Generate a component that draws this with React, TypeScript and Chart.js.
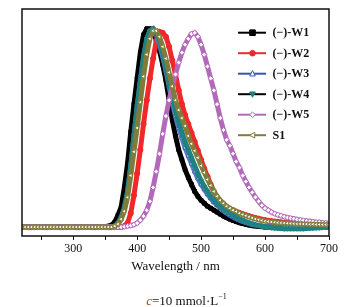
import React, { useEffect, useRef } from "react";
import { Chart, registerables } from "chart.js";

Chart.register(...registerables);

const wavelengths = [
  220, 225, 230, 235, 240, 245, 250, 255, 260, 265, 270, 275, 280, 285, 290, 295, 300, 305, 310, 315,
  320, 325, 330, 335, 340, 345, 350, 355, 360, 365, 370, 375, 380, 385, 390, 395, 400, 405, 410, 415,
  420, 425, 430, 435, 440, 445, 450, 455, 460, 465, 470, 475, 480, 485, 490, 495, 500, 505, 510, 515,
  520, 525, 530, 535, 540, 545, 550, 555, 560, 565, 570, 575, 580, 585, 590, 595, 600, 605, 610, 615,
  620, 625, 630, 635, 640, 645, 650, 655, 660, 665, 670, 675, 680, 685, 690, 695, 700,
];

const w1 = [
  0, 0, 0, 0, 0, 0, 0, 0, 0, 0, 0, 0, 0, 0, 0, 0, 0, 0, 0, 0, 0, 0, 0, 0, 0, 0, 0,
  0.005, 0.01, 0.025, 0.06, 0.1, 0.2, 0.32, 0.48, 0.62, 0.75, 0.88, 0.97, 1.0, 1.0, 0.98, 0.945,
  0.89, 0.82, 0.74, 0.64, 0.54, 0.46, 0.39, 0.34, 0.29, 0.25, 0.215, 0.18, 0.155, 0.135, 0.12,
  0.105, 0.095, 0.085, 0.075, 0.065, 0.055, 0.047, 0.04, 0.033, 0.027, 0.022, 0.018, 0.014, 0.01,
  0.007, 0.005, 0.003, 0.002,
  0, 0, 0, 0, 0, 0, 0, 0, 0, 0, 0, 0, 0, 0, 0, 0, 0, 0, 0, 0, 0,
];

const w2 = [
  0, 0, 0, 0, 0, 0, 0, 0, 0, 0, 0, 0, 0, 0, 0, 0, 0, 0, 0, 0, 0, 0, 0, 0, 0, 0, 0, 0, 0, 0, 0, 0,
  0.005, 0.02, 0.07, 0.16, 0.27, 0.39, 0.52, 0.64, 0.75, 0.85, 0.94, 0.985, 0.98, 0.96, 0.91, 0.84,
  0.77, 0.69, 0.62, 0.565, 0.52, 0.475, 0.43, 0.385, 0.34, 0.295, 0.255, 0.215, 0.18, 0.15, 0.13,
  0.115, 0.102, 0.092, 0.085, 0.078, 0.072, 0.066, 0.06, 0.055, 0.05, 0.046, 0.042, 0.038, 0.035,
  0.032, 0.03, 0.028, 0.026, 0.024, 0.022, 0.021, 0.02, 0.019, 0.018, 0.017, 0.016, 0.015, 0.015,
  0.014, 0.014, 0.013, 0.013, 0.012, 0.012,
];

const w3 = [
  0, 0, 0, 0, 0, 0, 0, 0, 0, 0, 0, 0, 0, 0, 0, 0, 0, 0, 0, 0, 0, 0, 0, 0, 0, 0, 0, 0, 0,
  0.005, 0.015, 0.04, 0.09, 0.17, 0.3, 0.45, 0.6, 0.73, 0.85, 0.94, 0.99, 1.0, 0.97, 0.92, 0.86,
  0.79, 0.71, 0.63, 0.56, 0.5, 0.45, 0.4, 0.36, 0.32, 0.28, 0.245, 0.215, 0.19, 0.165, 0.145, 0.125,
  0.11, 0.095, 0.082, 0.07, 0.06, 0.05, 0.042, 0.035, 0.028, 0.022, 0.017, 0.013, 0.01, 0.007,
  0.005, 0.003,
  0, 0, 0, 0, 0, 0, 0, 0, 0, 0, 0, 0, 0, 0, 0, 0, 0, 0, 0, 0,
];

const w4 = [
  0, 0, 0, 0, 0, 0, 0, 0, 0, 0, 0, 0, 0, 0, 0, 0, 0, 0, 0, 0, 0, 0, 0, 0, 0, 0, 0, 0, 0,
  0.005, 0.02, 0.05, 0.1, 0.18, 0.31, 0.46, 0.61, 0.74, 0.86, 0.95, 0.99, 1.0, 0.98, 0.94, 0.88,
  0.81, 0.73, 0.66, 0.59, 0.53, 0.48, 0.43, 0.39, 0.35, 0.31, 0.27, 0.235, 0.205, 0.18, 0.155, 0.135,
  0.12, 0.105, 0.09, 0.08, 0.07, 0.06, 0.05, 0.042, 0.035, 0.028, 0.022, 0.017, 0.012, 0.008, 0.005,
  0.002, 0, -0.003, -0.005, -0.006, -0.007, -0.008, -0.008, -0.008, -0.008, -0.008, -0.008, -0.008,
  -0.007, -0.006, -0.005, -0.004, -0.003, -0.002, -0.001, 0,
];

const w5 = [
  0, 0, 0, 0, 0, 0, 0, 0, 0, 0, 0, 0, 0, 0, 0, 0, 0, 0, 0, 0, 0, 0, 0, 0, 0, 0, 0, 0, 0, 0, 0, 0,
  0.002, 0.005, 0.008, 0.012, 0.02, 0.035, 0.055, 0.085, 0.13, 0.2, 0.28, 0.37, 0.47, 0.56, 0.64,
  0.71, 0.77, 0.83, 0.88, 0.92, 0.95, 0.975, 0.98, 0.96, 0.92, 0.87, 0.81, 0.75, 0.69, 0.62, 0.55,
  0.49, 0.44, 0.41, 0.37, 0.33, 0.3, 0.26, 0.23, 0.2, 0.175, 0.15, 0.13, 0.11, 0.095, 0.085, 0.075,
  0.068, 0.062, 0.057, 0.052, 0.048, 0.045, 0.042, 0.039, 0.036, 0.033, 0.031, 0.029, 0.027, 0.025,
  0.024, 0.022, 0.021, 0.02,
];

const s1 = [
  0, 0, 0, 0, 0, 0, 0, 0, 0, 0, 0, 0, 0, 0, 0, 0, 0, 0, 0, 0, 0, 0, 0, 0, 0, 0, 0, 0, 0,
  0.005, 0.015, 0.04, 0.08, 0.15, 0.26, 0.38, 0.5, 0.63, 0.76, 0.87, 0.95, 0.99, 0.99, 0.96, 0.91,
  0.85, 0.78, 0.71, 0.64, 0.59, 0.55, 0.51, 0.46, 0.42, 0.385, 0.35, 0.31, 0.275, 0.24, 0.21, 0.18,
  0.155, 0.135, 0.12, 0.105, 0.095, 0.085, 0.078, 0.07, 0.063, 0.057, 0.051, 0.046, 0.041, 0.037,
  0.033, 0.03, 0.028, 0.026, 0.024, 0.022, 0.021, 0.02, 0.019, 0.018, 0.017, 0.016, 0.016, 0.015,
  0.015, 0.014, 0.014, 0.013, 0.013, 0.012, 0.012, 0.012,
];

const seriesNames = ["(\u2212)-W1", "(\u2212)-W2", "(\u2212)-W3", "(\u2212)-W4", "(\u2212)-W5", "S1"];
const xTickValues = [250, 300, 350, 400, 450, 500, 550, 600, 650, 700];
const xAxisTitle = "Wavelength / nm";

type Style = {
  line: string;
  plotLine: string;
  marker: string;
  fill: string;
  shape: string;
  rotation: number;
};

const styles: Style[] = [
  { line: "#000000", plotLine: "#000000", marker: "#000000", fill: "#000000", shape: "rect", rotation: 0 },
  { line: "#f0282a", plotLine: "#f0282a", marker: "#f0282a", fill: "#f0282a", shape: "circle", rotation: 0 },
  { line: "#2f58b0", plotLine: "#5a78c0", marker: "#2f58b0", fill: "#ffffff", shape: "triangle", rotation: 0 },
  { line: "#000000", plotLine: "#1f8282", marker: "#1f8282", fill: "#1f8282", shape: "triangle", rotation: 180 },
  { line: "#b468bc", plotLine: "#b468bc", marker: "#b468bc", fill: "#ffffff", shape: "rectRot", rotation: 0 },
  { line: "#7f7c3a", plotLine: "#7f7c3a", marker: "#7f7c3a", fill: "#ffffff", shape: "triangle", rotation: -90 },
];

const seriesValues = [w1, w2, w3, w4, w5, s1];

function drawMarker(ctx: CanvasRenderingContext2D, shape: string, rotation: number, x: number, y: number, r: number) {
  ctx.save();
  ctx.translate(x, y);
  ctx.rotate((rotation * Math.PI) / 180);
  ctx.beginPath();
  if (shape === "rect") {
    ctx.rect(-r, -r, 2 * r, 2 * r);
  } else if (shape === "circle") {
    ctx.arc(0, 0, r, 0, Math.PI * 2);
  } else if (shape === "triangle") {
    ctx.moveTo(0, -r * 1.1);
    ctx.lineTo(r, r * 0.8);
    ctx.lineTo(-r, r * 0.8);
    ctx.closePath();
  } else if (shape === "rectRot") {
    ctx.moveTo(0, -r);
    ctx.lineTo(r, 0);
    ctx.lineTo(0, r);
    ctx.lineTo(-r, 0);
    ctx.closePath();
  }
  ctx.fill();
  ctx.stroke();
  ctx.restore();
}

const framePlugin = {
  id: "frameAndLegend",
  afterDraw(chart: any) {
    const ctx: CanvasRenderingContext2D = chart.ctx;
    const a = chart.chartArea;
    ctx.save();
    ctx.strokeStyle = "#111111";
    ctx.lineWidth = 1.5;
    ctx.strokeRect(a.left, a.top, a.right - a.left, a.bottom - a.top);

    // legend
    const x0 = 238;
    const x1 = 266;
    const xm = 252.5;
    const y0 = 32.7;
    const dy = 20.5;
    for (let i = 0; i < seriesNames.length; i++) {
      const st = styles[i];
      const y = y0 + i * dy;
      ctx.strokeStyle = st.line;
      ctx.lineWidth = 2;
      ctx.beginPath();
      ctx.moveTo(x0, y);
      ctx.lineTo(x1, y);
      ctx.stroke();
      ctx.fillStyle = st.fill;
      ctx.strokeStyle = st.marker;
      ctx.lineWidth = 1;
      drawMarker(ctx, st.shape, st.rotation, xm, y, 2.8);
      ctx.fillStyle = "#111111";
      ctx.font = "bold 12px 'Liberation Serif', 'Times New Roman', serif";
      ctx.textBaseline = "middle";
      ctx.textAlign = "left";
      ctx.fillText(seriesNames[i], 272.5, y + 0.5);
    }

    // caption c=10 mmol·L⁻¹
    const cy = 300;
    const italic = "italic 13px 'Liberation Serif', serif";
    const normal = "13px 'Liberation Serif', serif";
    const small = "8px 'Liberation Serif', serif";
    ctx.textBaseline = "alphabetic";
    const p1 = "c";
    const p2 = "=10 mmol\u00b7L";
    const p3 = "\u22121";
    ctx.font = italic;
    const w1m = ctx.measureText(p1).width;
    ctx.font = normal;
    const w2m = ctx.measureText(p2).width;
    ctx.font = small;
    const w3m = ctx.measureText(p3).width;
    const total = w1m + w2m + w3m;
    let cx = 186.5 - total / 2;
    const base = cy + 4.5;
    ctx.font = italic;
    ctx.fillStyle = "#a0520e";
    ctx.fillText(p1, cx, base);
    cx += w1m;
    ctx.font = normal;
    ctx.fillStyle = "#111111";
    ctx.fillText(p2, cx, base);
    cx += w2m;
    ctx.font = small;
    ctx.fillText(p3, cx, base - 6);
    ctx.restore();
  },
};

export default function App() {
  const canvasRef = useRef<HTMLCanvasElement | null>(null);

  useEffect(() => {
    const canvas = canvasRef.current;
    if (!canvas) return;
    const datasets = seriesValues.map((vals, i) => {
      const st = styles[i];
      return {
        label: seriesNames[i],
        data: wavelengths.map((w, j) => ({ x: w, y: vals[j] })),
        borderColor: st.plotLine,
        borderWidth: 5,
        pointStyle: st.shape,
        pointRotation: st.rotation,
        pointRadius: 2.6,
        pointBorderWidth: 1,
        pointBorderColor: st.marker,
        pointBackgroundColor: st.fill,
        fill: false,
        tension: 0,
        order: seriesNames.length - i,
      };
    });

    const chart = new Chart(canvas, {
      type: "line",
      data: { datasets },
      options: {
        animation: false,
        responsive: false,
        maintainAspectRatio: false,
        layout: { padding: { left: 22, right: 28, top: 9, bottom: 33 } },
        plugins: {
          legend: { display: false },
          tooltip: { enabled: false },
          title: { display: false },
        },
        scales: {
          x: {
            type: "linear",
            min: 220,
            max: 700,
            afterBuildTicks: (axis: any) => {
              axis.ticks = xTickValues.map((v) => ({ value: v }));
            },
            border: { display: false },
            grid: {
              drawOnChartArea: false,
              drawTicks: true,
              tickLength: 4,
              color: "#111111",
              lineWidth: 1,
            },
            ticks: {
              padding: 2,
              color: "#111111",
              font: { family: "'Liberation Serif', 'Times New Roman', serif", size: 12 },
              callback: (v: any) => (Number(v) % 100 === 0 ? String(v) : ""),
              maxRotation: 0,
              autoSkip: false,
            },
            title: {
              display: true,
              text: xAxisTitle,
              color: "#111111",
              font: { family: "'Liberation Serif', 'Times New Roman', serif", size: 13 },
              padding: { top: 0, bottom: 0 },
            },
          },
          y: {
            type: "linear",
            display: false,
            min: -0.045,
            max: 1.1,
          },
        },
      },
      plugins: [framePlugin],
    } as any);

    return () => {
      chart.destroy();
    };
  }, []);

  return (
    <div style={{ position: "absolute", left: 0, top: 0, width: 357, height: 307, background: "#ffffff" }}>
      <canvas ref={canvasRef} width={357} height={307} style={{ display: "block", width: 357, height: 307 }} />
    </div>
  );
}
